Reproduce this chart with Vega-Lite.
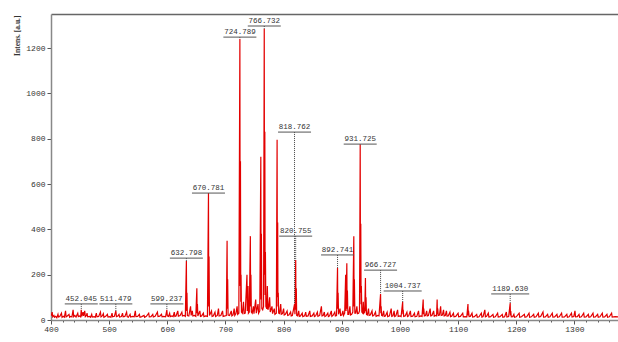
{
"$schema":"https://vega.github.io/schema/vega-lite/v6.json",
"autosize":{"type":"none"},
"padding":{"left":51,"top":14,"right":0,"bottom":22},
"width":567,"height":306,
"background":"white",
"config":{"view":{"stroke":null}},
"datasets":{
"spectrum":[
{"mz":400,"i":18},{"mz":401.5,"i":30},{"mz":402,"i":35},{"mz":403,"i":14},{"mz":405,"i":20},{"mz":406,"i":12},{"mz":408,"i":16},{"mz":410,"i":10},{"mz":412,"i":25},{"mz":413,"i":13},{"mz":415,"i":15},{"mz":418,"i":30},{"mz":419,"i":12},{"mz":421,"i":16},{"mz":423,"i":12},{"mz":425,"i":40},{"mz":426,"i":14},{"mz":428,"i":18},{"mz":431,"i":25},{"mz":432,"i":12},{"mz":434,"i":16},{"mz":436,"i":14},{"mz":438,"i":45},{"mz":439,"i":15},{"mz":441,"i":20},{"mz":443,"i":13},{"mz":446,"i":30},{"mz":447,"i":15},{"mz":449,"i":18},{"mz":451,"i":14},{"mz":452,"i":45},{"mz":453,"i":16},{"mz":455,"i":35},{"mz":456,"i":18},{"mz":458,"i":40},{"mz":459,"i":15},{"mz":461,"i":20},{"mz":462,"i":30},{"mz":463,"i":14},{"mz":466,"i":16},{"mz":468,"i":12},{"mz":470,"i":25},{"mz":471,"i":13},{"mz":474,"i":15},{"mz":476,"i":12},{"mz":478,"i":30},{"mz":479,"i":14},{"mz":482,"i":16},{"mz":485,"i":35},{"mz":486,"i":14},{"mz":488,"i":18},{"mz":490,"i":28},{"mz":491,"i":12},{"mz":494,"i":16},{"mz":497,"i":25},{"mz":498,"i":13},{"mz":501,"i":15},{"mz":503,"i":12},{"mz":505,"i":30},{"mz":506,"i":14},{"mz":509,"i":16},{"mz":511.5,"i":40},{"mz":512.5,"i":15},{"mz":515,"i":18},{"mz":517,"i":25},{"mz":518,"i":13},{"mz":521,"i":15},{"mz":523,"i":30},{"mz":524,"i":14},{"mz":527,"i":16},{"mz":530,"i":35},{"mz":531,"i":15},{"mz":533,"i":12},{"mz":536,"i":25},{"mz":537,"i":13},{"mz":540,"i":16},{"mz":543,"i":14},{"mz":545,"i":40},{"mz":546,"i":15},{"mz":549,"i":16},{"mz":552,"i":25},{"mz":553,"i":12},{"mz":556,"i":15},{"mz":560,"i":20},{"mz":561,"i":12},{"mz":564,"i":16},{"mz":568,"i":30},{"mz":569,"i":14},{"mz":572,"i":15},{"mz":575,"i":25},{"mz":576,"i":13},{"mz":579,"i":16},{"mz":583,"i":35},{"mz":584,"i":15},{"mz":587,"i":17},{"mz":590,"i":25},{"mz":591,"i":14},{"mz":594,"i":16},{"mz":597,"i":14},{"mz":599.2,"i":45},{"mz":600,"i":18},{"mz":602,"i":16},{"mz":604,"i":30},{"mz":605,"i":15},{"mz":608,"i":18},{"mz":610,"i":15},{"mz":612,"i":35},{"mz":613,"i":16},{"mz":615,"i":18},{"mz":618,"i":40},{"mz":619,"i":17},{"mz":622,"i":20},{"mz":625,"i":35},{"mz":626,"i":18},{"mz":629,"i":20},{"mz":631,"i":16},{"mz":632.8,"i":260},{"mz":633.3,"i":40},{"mz":633.8,"i":120},{"mz":634.5,"i":20},{"mz":637,"i":18},{"mz":640,"i":60},{"mz":641,"i":20},{"mz":643,"i":40},{"mz":644,"i":18},{"mz":647,"i":20},{"mz":649,"i":16},{"mz":650.8,"i":140},{"mz":651.3,"i":30},{"mz":651.8,"i":70},{"mz":652.5,"i":18},{"mz":656,"i":40},{"mz":657,"i":16},{"mz":659,"i":18},{"mz":662,"i":30},{"mz":663,"i":15},{"mz":666,"i":18},{"mz":669,"i":16},{"mz":670.8,"i":560},{"mz":671.3,"i":60},{"mz":671.8,"i":280},{"mz":672.5,"i":20},{"mz":676,"i":40},{"mz":677,"i":16},{"mz":679,"i":18},{"mz":682,"i":35},{"mz":683,"i":15},{"mz":686,"i":20},{"mz":688,"i":50},{"mz":689,"i":18},{"mz":692,"i":20},{"mz":695,"i":40},{"mz":696,"i":16},{"mz":699,"i":18},{"mz":701.5,"i":20},{"mz":702.8,"i":350},{"mz":703.3,"i":50},{"mz":703.8,"i":180},{"mz":704.5,"i":22},{"mz":707,"i":20},{"mz":710,"i":40},{"mz":711,"i":18},{"mz":713,"i":22},{"mz":715,"i":50},{"mz":716,"i":20},{"mz":718,"i":28},{"mz":720,"i":60},{"mz":721,"i":25},{"mz":723,"i":30},{"mz":724.8,"i":1240},{"mz":725.3,"i":150},{"mz":725.8,"i":700},{"mz":726.3,"i":80},{"mz":726.8,"i":200},{"mz":727.5,"i":35},{"mz":729,"i":30},{"mz":731,"i":80},{"mz":732,"i":28},{"mz":734,"i":30},{"mz":737,"i":200},{"mz":737.5,"i":40},{"mz":738.8,"i":150},{"mz":739.5,"i":30},{"mz":741,"i":35},{"mz":742.8,"i":370},{"mz":743.3,"i":60},{"mz":743.8,"i":200},{"mz":744.5,"i":35},{"mz":746,"i":30},{"mz":748,"i":60},{"mz":749,"i":28},{"mz":752,"i":90},{"mz":753,"i":30},{"mz":756,"i":70},{"mz":757,"i":30},{"mz":759,"i":40},{"mz":760.8,"i":720},{"mz":761.3,"i":90},{"mz":761.8,"i":380},{"mz":762.5,"i":50},{"mz":764,"i":45},{"mz":765.5,"i":60},{"mz":766.7,"i":1285},{"mz":767.2,"i":200},{"mz":767.7,"i":830},{"mz":768.2,"i":110},{"mz":768.7,"i":300},{"mz":769.5,"i":60},{"mz":771,"i":50},{"mz":772,"i":150},{"mz":773,"i":45},{"mz":774.5,"i":60},{"mz":776,"i":100},{"mz":777,"i":35},{"mz":780,"i":60},{"mz":781,"i":28},{"mz":784,"i":50},{"mz":785,"i":25},{"mz":787.5,"i":30},{"mz":788.8,"i":795},{"mz":789.3,"i":100},{"mz":789.8,"i":430},{"mz":790.3,"i":60},{"mz":790.8,"i":120},{"mz":791.5,"i":30},{"mz":793,"i":28},{"mz":795,"i":70},{"mz":796,"i":25},{"mz":798,"i":28},{"mz":800,"i":50},{"mz":801,"i":22},{"mz":803,"i":25},{"mz":806,"i":40},{"mz":807,"i":20},{"mz":809,"i":22},{"mz":812,"i":35},{"mz":813,"i":18},{"mz":815,"i":20},{"mz":818.8,"i":70},{"mz":819.5,"i":25},{"mz":820.8,"i":265},{"mz":821.3,"i":45},{"mz":821.8,"i":140},{"mz":822.5,"i":20},{"mz":824,"i":18},{"mz":826,"i":40},{"mz":827,"i":16},{"mz":829,"i":18},{"mz":832,"i":30},{"mz":833,"i":15},{"mz":836,"i":18},{"mz":838,"i":35},{"mz":839,"i":16},{"mz":842,"i":18},{"mz":845,"i":40},{"mz":846,"i":16},{"mz":849,"i":18},{"mz":852,"i":30},{"mz":853,"i":15},{"mz":855,"i":18},{"mz":858,"i":35},{"mz":859,"i":16},{"mz":862,"i":20},{"mz":865,"i":60},{"mz":866,"i":18},{"mz":868,"i":20},{"mz":870,"i":35},{"mz":871,"i":15},{"mz":873,"i":18},{"mz":876,"i":30},{"mz":877,"i":15},{"mz":879,"i":18},{"mz":882,"i":40},{"mz":883,"i":16},{"mz":885,"i":20},{"mz":888,"i":35},{"mz":889,"i":18},{"mz":891,"i":20},{"mz":892.7,"i":230},{"mz":893.2,"i":50},{"mz":893.7,"i":120},{"mz":894.5,"i":25},{"mz":897,"i":50},{"mz":898,"i":20},{"mz":900,"i":22},{"mz":902,"i":40},{"mz":903,"i":20},{"mz":905,"i":30},{"mz":906.7,"i":200},{"mz":907.3,"i":40},{"mz":908.7,"i":250},{"mz":909.2,"i":50},{"mz":909.7,"i":130},{"mz":910.5,"i":25},{"mz":912,"i":25},{"mz":914,"i":60},{"mz":915,"i":22},{"mz":917,"i":25},{"mz":919,"i":35},{"mz":920.7,"i":370},{"mz":921.2,"i":60},{"mz":921.7,"i":180},{"mz":922.5,"i":30},{"mz":924,"i":30},{"mz":926,"i":60},{"mz":927,"i":28},{"mz":929,"i":30},{"mz":930.5,"i":40},{"mz":931.7,"i":775},{"mz":932.2,"i":120},{"mz":932.7,"i":425},{"mz":933.2,"i":70},{"mz":933.7,"i":150},{"mz":934.5,"i":35},{"mz":936,"i":30},{"mz":937,"i":80},{"mz":938,"i":30},{"mz":939.5,"i":35},{"mz":940.7,"i":185},{"mz":941.2,"i":40},{"mz":941.7,"i":100},{"mz":942.5,"i":25},{"mz":944,"i":22},{"mz":946,"i":50},{"mz":947,"i":20},{"mz":949,"i":22},{"mz":952,"i":40},{"mz":953,"i":18},{"mz":955,"i":20},{"mz":958,"i":35},{"mz":959,"i":16},{"mz":962,"i":20},{"mz":964,"i":18},{"mz":966.7,"i":115},{"mz":967.2,"i":30},{"mz":967.7,"i":60},{"mz":968.5,"i":20},{"mz":970,"i":18},{"mz":972,"i":40},{"mz":973,"i":16},{"mz":975,"i":18},{"mz":978,"i":35},{"mz":979,"i":15},{"mz":982,"i":18},{"mz":985,"i":50},{"mz":986,"i":16},{"mz":988,"i":18},{"mz":990,"i":40},{"mz":991,"i":15},{"mz":993,"i":18},{"mz":996,"i":45},{"mz":997,"i":16},{"mz":1000,"i":18},{"mz":1002,"i":15},{"mz":1004.7,"i":80},{"mz":1005.2,"i":25},{"mz":1005.7,"i":45},{"mz":1006.5,"i":16},{"mz":1009,"i":18},{"mz":1012,"i":35},{"mz":1013,"i":15},{"mz":1015,"i":18},{"mz":1018,"i":40},{"mz":1019,"i":15},{"mz":1022,"i":17},{"mz":1025,"i":30},{"mz":1026,"i":14},{"mz":1029,"i":16},{"mz":1032,"i":40},{"mz":1033,"i":15},{"mz":1036,"i":18},{"mz":1038,"i":16},{"mz":1040,"i":90},{"mz":1040.5,"i":25},{"mz":1041,"i":50},{"mz":1042,"i":18},{"mz":1044,"i":20},{"mz":1046,"i":40},{"mz":1047,"i":18},{"mz":1049,"i":20},{"mz":1052,"i":50},{"mz":1053,"i":18},{"mz":1055,"i":20},{"mz":1058,"i":40},{"mz":1059,"i":17},{"mz":1061,"i":20},{"mz":1063,"i":18},{"mz":1064,"i":90},{"mz":1064.5,"i":25},{"mz":1065,"i":50},{"mz":1066,"i":20},{"mz":1068,"i":22},{"mz":1070,"i":60},{"mz":1071,"i":20},{"mz":1073,"i":22},{"mz":1075,"i":45},{"mz":1076,"i":18},{"mz":1078,"i":20},{"mz":1080,"i":40},{"mz":1081,"i":17},{"mz":1083,"i":18},{"mz":1086,"i":35},{"mz":1087,"i":15},{"mz":1089,"i":17},{"mz":1092,"i":30},{"mz":1093,"i":14},{"mz":1096,"i":16},{"mz":1100,"i":30},{"mz":1101,"i":14},{"mz":1104,"i":16},{"mz":1108,"i":30},{"mz":1109,"i":14},{"mz":1112,"i":15},{"mz":1115,"i":14},{"mz":1117,"i":70},{"mz":1117.5,"i":20},{"mz":1118,"i":40},{"mz":1119,"i":15},{"mz":1121,"i":16},{"mz":1124,"i":30},{"mz":1125,"i":13},{"mz":1128,"i":15},{"mz":1132,"i":25},{"mz":1133,"i":12},{"mz":1136,"i":14},{"mz":1140,"i":30},{"mz":1141,"i":13},{"mz":1143,"i":15},{"mz":1146,"i":45},{"mz":1147,"i":14},{"mz":1149,"i":16},{"mz":1152,"i":30},{"mz":1153,"i":13},{"mz":1156,"i":15},{"mz":1160,"i":25},{"mz":1161,"i":12},{"mz":1164,"i":14},{"mz":1168,"i":30},{"mz":1169,"i":13},{"mz":1172,"i":15},{"mz":1176,"i":25},{"mz":1177,"i":12},{"mz":1180,"i":14},{"mz":1183,"i":35},{"mz":1184,"i":13},{"mz":1187,"i":15},{"mz":1189.6,"i":75},{"mz":1190.1,"i":20},{"mz":1190.6,"i":40},{"mz":1191.5,"i":14},{"mz":1194,"i":15},{"mz":1196,"i":25},{"mz":1197,"i":12},{"mz":1200,"i":14},{"mz":1205,"i":30},{"mz":1206,"i":12},{"mz":1209,"i":14},{"mz":1214,"i":25},{"mz":1215,"i":12},{"mz":1218,"i":14},{"mz":1222,"i":30},{"mz":1223,"i":12},{"mz":1226,"i":14},{"mz":1230,"i":25},{"mz":1231,"i":12},{"mz":1234,"i":14},{"mz":1238,"i":30},{"mz":1239,"i":13},{"mz":1242,"i":15},{"mz":1246,"i":35},{"mz":1247,"i":13},{"mz":1250,"i":14},{"mz":1254,"i":25},{"mz":1255,"i":12},{"mz":1258,"i":14},{"mz":1262,"i":30},{"mz":1263,"i":13},{"mz":1266,"i":14},{"mz":1270,"i":25},{"mz":1271,"i":12},{"mz":1274,"i":14},{"mz":1278,"i":30},{"mz":1279,"i":13},{"mz":1283,"i":14},{"mz":1287,"i":25},{"mz":1288,"i":12},{"mz":1291,"i":14},{"mz":1295,"i":30},{"mz":1296,"i":13},{"mz":1299,"i":15},{"mz":1301,"i":40},{"mz":1302,"i":14},{"mz":1305,"i":15},{"mz":1308,"i":25},{"mz":1309,"i":12},{"mz":1312,"i":14},{"mz":1316,"i":30},{"mz":1317,"i":13},{"mz":1320,"i":14},{"mz":1324,"i":25},{"mz":1325,"i":12},{"mz":1328,"i":14},{"mz":1332,"i":30},{"mz":1333,"i":13},{"mz":1336,"i":14},{"mz":1340,"i":25},{"mz":1341,"i":12},{"mz":1344,"i":14},{"mz":1348,"i":30},{"mz":1349,"i":13},{"mz":1352,"i":14},{"mz":1356,"i":25},{"mz":1357,"i":12},{"mz":1360,"i":14},{"mz":1364,"i":30},{"mz":1365,"i":13},{"mz":1370,"i":15},{"mz":1375,"i":14}
],
"labels":[
{"mz":452.045,"label":"452.045","ly":71,"peak":45},
{"mz":511.479,"label":"511.479","ly":71,"peak":40},
{"mz":599.237,"label":"599.237","ly":71,"peak":45},
{"mz":632.798,"label":"632.798","ly":273,"peak":260},
{"mz":670.781,"label":"670.781","ly":560,"peak":560},
{"mz":724.789,"label":"724.789","ly":1248,"peak":1240},
{"mz":766.732,"label":"766.732","ly":1297,"peak":1285},
{"mz":818.762,"label":"818.762","ly":829,"peak":70},
{"mz":820.755,"label":"820.755","ly":370,"peak":265},
{"mz":892.741,"label":"892.741","ly":287,"peak":230},
{"mz":931.725,"label":"931.725","ly":776,"peak":775},
{"mz":966.727,"label":"966.727","ly":220,"peak":115},
{"mz":1004.737,"label":"1004.737","ly":128,"peak":80},
{"mz":1189.630,"label":"1189.630","ly":115,"peak":75}
]
},
"layer":[
{"data":{"name":"spectrum"},
 "mark":{"type":"line","color":"#e30000","strokeWidth":1.2,"clip":true},
 "encoding":{
  "x":{"field":"mz","type":"quantitative","scale":{"domain":[400,1375],"nice":false,"zero":false},
   "axis":{"title":null,"orient":"bottom","grid":false,"values":[400,420,440,460,480,500,520,540,560,580,600,620,640,660,680,700,720,740,760,780,800,820,840,860,880,900,920,940,960,980,1000,1020,1040,1060,1080,1100,1120,1140,1160,1180,1200,1220,1240,1260,1280,1300,1320,1340,1360],
    "labelExpr":"datum.value % 100 === 0 ? datum.label : ''","format":"d","labelOverlap":false,"labelFlush":false,
    "tickSize":{"condition":{"test":"datum.value % 100 === 0","value":4},"value":2},
    "domainColor":"#888","domainWidth":1.5,"tickColor":"#555","labelFont":"Liberation Mono","labelFontSize":8,"labelColor":"#333","labelPadding":1}},
  "y":{"field":"i","type":"quantitative","scale":{"domain":[0,1350],"nice":false},
   "axis":{"title":"Intens. [a.u.]","grid":false,"values":[0,100,200,300,400,500,600,700,800,900,1000,1100,1200,1300],
    "labelExpr":"datum.value % 200 === 0 ? datum.label : ''","format":"d","labelOverlap":false,"labelFlush":false,
    "tickSize":{"condition":{"test":"datum.value % 200 === 0","value":4},"value":2},
    "domainColor":"#888","domainWidth":1.5,"tickColor":"#555","labelFont":"Liberation Mono","labelFontSize":8,"labelColor":"#333","labelPadding":2,
    "titleFont":"Liberation Serif","titleFontSize":7.5,"titleFontWeight":"bold","titleColor":"#333","titleAngle":-90,"titleAlign":"right","titleBaseline":"middle","titleX":-34,"titleY":1}}
 }},
{"data":{"name":"labels"},
 "mark":{"type":"rule","color":"#444","strokeDash":[1,1],"strokeWidth":1},
 "encoding":{"x":{"field":"mz","type":"quantitative","axis":null},"y":{"field":"ly","type":"quantitative"},"y2":{"field":"peak"}}},
{"data":{"name":"labels"},
 "transform":[{"filter":"length(datum.label) <= 7"}],
 "mark":{"type":"rule","color":"#555","strokeWidth":1,"xOffset":-16.5,"x2Offset":16.5},
 "encoding":{"x":{"field":"mz","type":"quantitative","axis":null},"x2":{"field":"mz"},"y":{"field":"ly","type":"quantitative"}}},
{"data":{"name":"labels"},
 "transform":[{"filter":"length(datum.label) > 7"}],
 "mark":{"type":"rule","color":"#555","strokeWidth":1,"xOffset":-19,"x2Offset":19},
 "encoding":{"x":{"field":"mz","type":"quantitative","axis":null},"x2":{"field":"mz"},"y":{"field":"ly","type":"quantitative"}}},
{"data":{"name":"labels"},
 "mark":{"type":"text","font":"Liberation Mono","fontSize":7.5,"color":"#333","baseline":"bottom","dy":-1},
 "encoding":{"x":{"field":"mz","type":"quantitative","axis":{"orient":"top","title":null,"labels":false,"ticks":false,"grid":false,"domain":true,"domainColor":"#666","domainWidth":1.5}},"y":{"field":"ly","type":"quantitative"},"text":{"field":"label"}}}
],
"resolve":{"axis":{"x":"independent"}}
}
